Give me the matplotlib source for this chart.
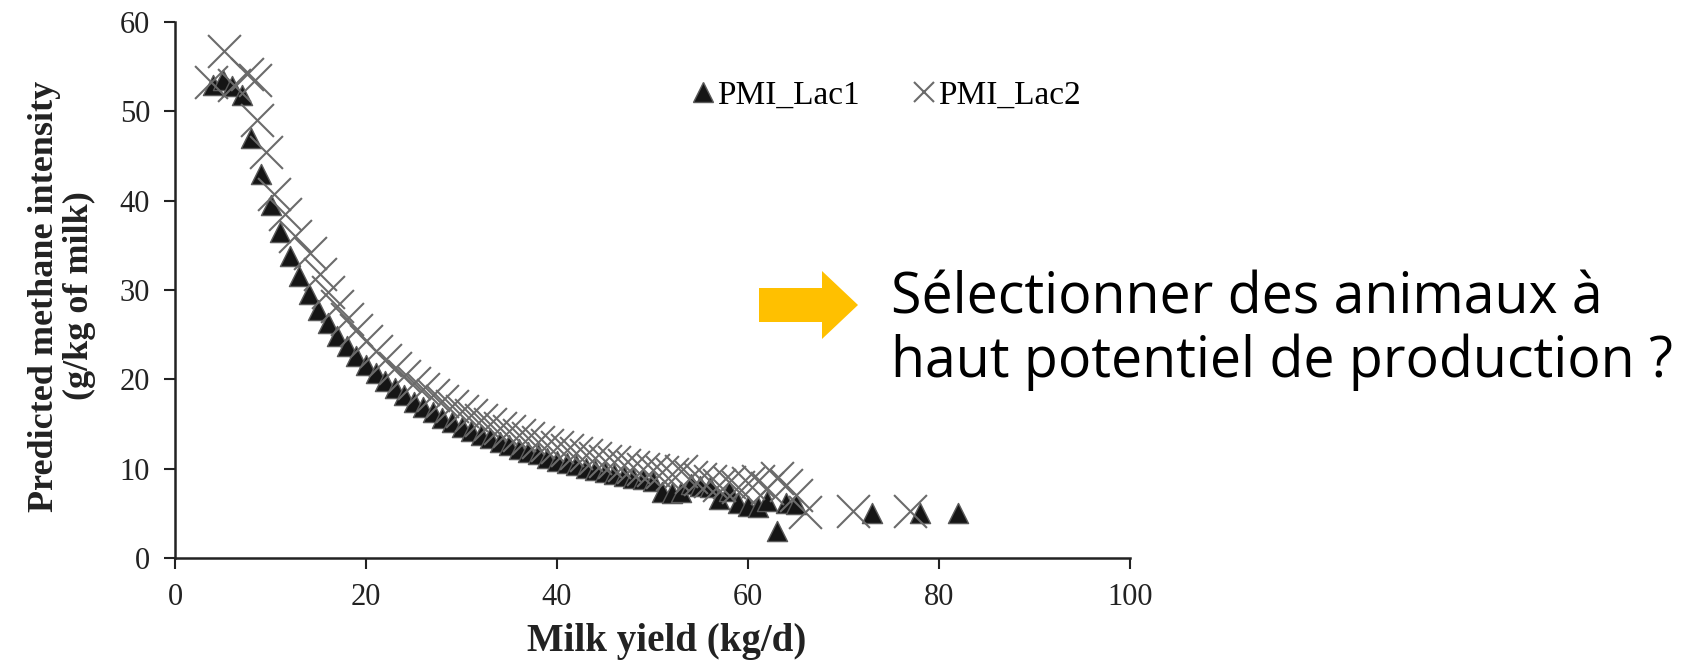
import matplotlib
matplotlib.use("Agg")
import matplotlib.pyplot as plt
from matplotlib.lines import Line2D
from matplotlib.patches import Polygon

# ── Data ──────────────────────────────────────────────────────────────────────
lac1_x = [4, 5, 6, 7, 8, 9, 10, 11, 12, 13, 14, 15, 16, 17, 18, 19, 20,
          21, 22, 23, 24, 25, 26, 27, 28, 29, 30, 31, 32, 33, 34, 35, 36,
          37, 38, 39, 40, 41, 42, 43, 44, 45, 46, 47, 48, 49, 50, 51, 52,
          53, 54, 55, 56, 57, 58, 59, 60, 61, 62, 63, 64, 65, 73, 78, 82]
lac1_y = [53.0, 53.5, 52.8, 51.8, 47.0, 43.0, 39.5, 36.5, 33.8, 31.6, 29.6,
          27.8, 26.3, 24.9, 23.7, 22.6, 21.6, 20.7, 19.8, 19.0, 18.2, 17.5,
          16.9, 16.3, 15.7, 15.2, 14.7, 14.2, 13.8, 13.4, 13.0, 12.6, 12.2,
          11.9, 11.6, 11.2, 10.9, 10.6, 10.4, 10.1, 9.9, 9.6, 9.4, 9.2,
          9.0, 8.8, 8.6, 7.4, 7.3, 7.4, 8.3, 8.1, 7.9, 6.6, 7.5, 6.2, 5.8,
          5.7, 6.4, 3.0, 6.2, 6.0, 5.0, 5.0, 5.0]

lac2_x = [3.8, 5.1, 6.2, 7.5, 8.4, 8.6, 9.5, 10.4, 11.5, 12.6, 14.1, 15.2,
          16, 17, 18, 19, 20, 21, 22, 23, 24, 25, 26, 27, 28, 29, 30, 31,
          32, 33, 34, 35, 36, 37, 38, 39, 40, 41, 42, 43, 44, 45, 46, 47,
          48, 49, 50, 51, 52, 53, 54, 55, 56, 57, 58, 59, 60, 61, 62, 63,
          64, 65, 66, 71, 77]
lac2_y = [53.3, 56.7, 53.0, 54.2, 53.5, 49.0, 45.5, 40.8, 38.5, 36.1, 34.1,
          31.8, 29.8, 28.2, 26.8, 25.5, 24.3, 23.2, 22.2, 21.3, 20.4, 19.6,
          18.9, 18.2, 17.6, 17.0, 16.5, 16.0, 15.5, 15.0, 14.6, 14.2, 13.8,
          13.4, 13.0, 12.7, 12.4, 12.1, 11.8, 11.5, 11.2, 10.9, 10.7, 10.4,
          10.2, 10.0, 9.8, 9.6, 9.4, 9.7, 9.1, 8.8, 8.6, 8.2, 8.5, 8.0,
          8.4, 8.6, 7.8, 9.0, 8.2, 7.0, 5.2, 5.3, 5.3]

x_ticks = [0, 20, 40, 60, 80, 100]
y_ticks = [0, 10, 20, 30, 40, 50, 60]

serif = "Liberation Serif"

# ── Figure ────────────────────────────────────────────────────────────────────
fig = plt.figure(figsize=(16.87, 6.63), dpi=100)
ax = fig.add_axes([175 / 1687, 105 / 663, 955 / 1687, 536 / 663])

ax.scatter(lac1_x, lac1_y, marker="^", s=210, facecolor="#151515",
           edgecolor="#5a5a5a", linewidths=1.0, zorder=3)
ax.scatter(lac2_x, lac2_y, marker="x", s=560, color="#6b6b6b",
           linewidths=1.5, zorder=4)

ax.set_xlim(0, 100)
ax.set_ylim(0, 60)
ax.set_xticks(x_ticks)
ax.set_yticks(y_ticks)
for s in ["top", "right"]:
    ax.spines[s].set_visible(False)
for s in ["left", "bottom"]:
    ax.spines[s].set_linewidth(1.8)
    ax.spines[s].set_color("#222222")
ax.tick_params(direction="out", length=8, width=1.5, color="#222222",
               labelsize=22, pad=10)
for lab in ax.get_xticklabels() + ax.get_yticklabels():
    lab.set_fontfamily(serif)
    lab.set_color("#222222")

# legend
handles = [
    Line2D([], [], marker="^", ls="none", markersize=15,
           markerfacecolor="#151515", markeredgecolor="#5a5a5a"),
    Line2D([], [], marker="x", ls="none", markersize=15, color="#6b6b6b",
           markeredgewidth=1.5),
]
fig.legend(handles, ["PMI_Lac1", "PMI_Lac2"], ncol=2, frameon=False,
           loc="center", bbox_to_anchor=(886 / 1687, 1 - 95 / 663),
           handlelength=0.7, handletextpad=0.05, columnspacing=1.6,
           prop={"family": serif, "size": 24})

# axis titles
fig.text(667 / 1687, 1 - 641 / 663, "Milk yield (kg/d)", ha="center",
         va="center", fontsize=28, fontweight="bold", family=serif,
         color="#222222")
fig.text(62 / 1687, 1 - 296 / 663,
         "Predicted methane intensity\n(g/kg of milk)", ha="center",
         va="center", rotation=90, fontsize=26, fontweight="bold",
         family=serif, linespacing=1.05, color="#222222")

# orange arrow + message
arrow_px = [(759, 288), (822, 288), (822, 271), (858, 305),
            (822, 339), (822, 322), (759, 322)]
arrow = Polygon([(px / 100, (663 - py) / 100) for px, py in arrow_px],
                closed=True, facecolor="#FFC000", edgecolor="none",
                transform=fig.dpi_scale_trans)
fig.patches.append(arrow)

fig.text(891 / 1687, 1 - 314 / 663, "Sélectionner des animaux à",
         ha="left", va="baseline", fontsize=40, family="Open Sans")
fig.text(891 / 1687, 1 - 377 / 663, "haut potentiel de production ?",
         ha="left", va="baseline", fontsize=40, family="Open Sans")

fig.savefig("out.png", dpi=100, facecolor="white")
